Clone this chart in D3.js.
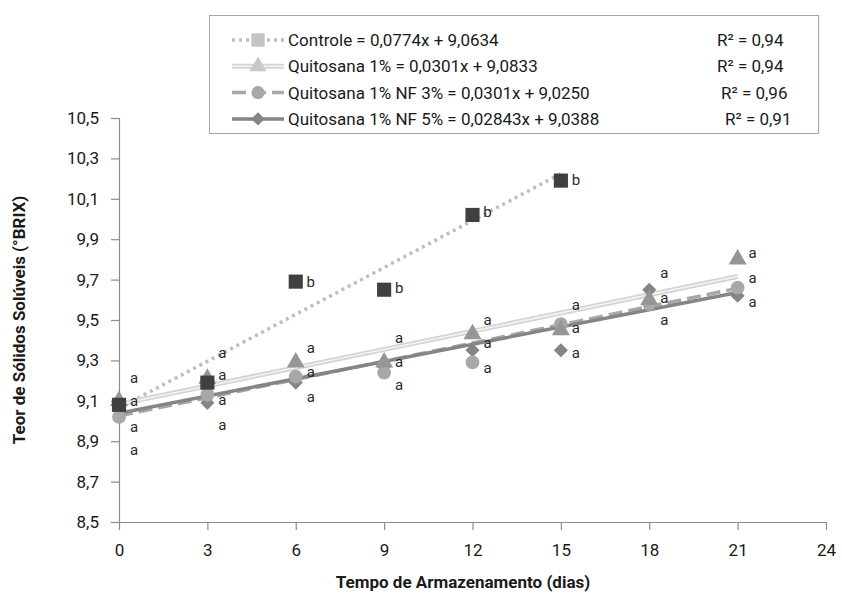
<!DOCTYPE html>
<html><head><meta charset="utf-8">
<script src="https://cdn.jsdelivr.net/npm/d3@7"></script>
<style>body{margin:0;background:#fff}svg{display:block}text{font-family:"Roboto",sans-serif}</style>
</head><body><svg id="c" width="842" height="603"></svg>
<script>
const days = [0, 3, 6, 9, 12, 15, 18, 21];
const controle = [9.08, 9.19, 9.69, 9.65, 10.02, 10.19];
const quit1 = [9.10, 9.21, 9.29, 9.29, 9.43, 9.45, 9.60, 9.80];
const quitNF3 = [9.02, 9.13, 9.22, 9.24, 9.29, 9.48, 9.58, 9.66];
const quitNF5 = [9.08, 9.09, 9.19, 9.27, 9.35, 9.35, 9.65, 9.62];
const seriesNames = ["Controle", "Quitosana 1%", "Quitosana 1% NF 3%", "Quitosana 1% NF 5%"];
const slopes = [0.0774, 0.0301, 0.0301, 0.02843];
const intercepts = [9.0634, 9.0833, 9.0250, 9.0388];
const legendEq = ["Controle = 0,0774x + 9,0634", "Quitosana 1% = 0,0301x + 9,0833", "Quitosana 1% NF 3% = 0,0301x + 9,0250", "Quitosana 1% NF 5% = 0,02843x + 9,0388"];
const legendR2 = ["R² = 0,94", "R² = 0,94", "R² = 0,96", "R² = 0,91"];
const trendEnd = [15, 21, 21, 21];
const xTicks = [0, 3, 6, 9, 12, 15, 18, 21, 24];
const yTicks = [8.5, 8.7, 8.9, 9.1, 9.3, 9.5, 9.7, 9.9, 10.1, 10.3, 10.5];
// significance letters: [day, value position, letter]
const letters = [
  [0, 9.213, "a"], [0, 9.099, "a"], [0, 8.970, "a"], [0, 8.856, "a"],
  [3, 9.337, "a"], [3, 9.228, "a"], [3, 9.104, "a"], [3, 8.980, "a"],
  [6, 9.688, "b"], [6, 9.361, "a"], [6, 9.243, "a"], [6, 9.119, "a"],
  [9, 9.658, "b"], [9, 9.411, "a"], [9, 9.292, "a"], [9, 9.178, "a"],
  [12, 10.035, "b"], [12, 9.500, "a"], [12, 9.386, "a"], [12, 9.262, "a"],
  [15, 10.193, "b"], [15, 9.574, "a"], [15, 9.460, "a"], [15, 9.337, "a"],
  [18, 9.733, "a"], [18, 9.609, "a"], [18, 9.500, "a"],
  [21, 9.832, "a"], [21, 9.708, "a"], [21, 9.589, "a"]
];

const svg = d3.select("#c");
const L = 119, R = 826, T = 118, B = 522;
const x = d3.scaleLinear().domain([0, 24]).range([L, R]);
const y = d3.scaleLinear().domain([8.5, 10.5]).range([B, T]);
const fmt = d => d3.format(".1f")(d).replace(".", ",");

const yAx = svg.append("g").attr("transform", `translate(${L},0)`)
  .call(d3.axisLeft(y).tickValues(yTicks).tickFormat(fmt).tickSize(8).tickPadding(12));
const xAx = svg.append("g").attr("transform", `translate(0,${B})`)
  .call(d3.axisBottom(x).tickValues(xTicks).tickFormat(d3.format("d")).tickSize(8).tickPadding(14));
[yAx, xAx].forEach(g => {
  g.selectAll("path,line").attr("stroke", "#8c8c8c").attr("stroke-width", 1.2);
  g.selectAll("text").attr("fill", "#1a1a1a").style("font-size", "17px").style("font-family", "'Roboto',sans-serif");
});
xAx.select("path").attr("d", `M${L},0.5H${R}`);
yAx.select("path").attr("d", `M0.5,${T}V${B}`);

svg.append("text").attr("x", 463).attr("y", 588).attr("text-anchor", "middle")
  .style("font-size", "17px").style("font-weight", "bold").attr("fill", "#1a1a1a")
  .text("Tempo de Armazenamento (dias)");
svg.append("text").attr("transform", "translate(25,320) rotate(-90)").attr("text-anchor", "middle")
  .style("font-size", "17px").style("font-weight", "bold").attr("fill", "#1a1a1a")
  .text("Teor de Sólidos Solúveis (°BRIX)");

function drawTrend(g, x1, y1, x2, y2, i) {
  const ln = () => g.append("line").attr("x1", x1).attr("y1", y1).attr("x2", x2).attr("y2", y2);
  if (i === 0) {
    ln().attr("stroke", "#bdbdbd").attr("stroke-width", 3.5).attr("stroke-dasharray", "3,4");
  } else if (i === 1) {
    ln().attr("stroke", "#d4d4d4").attr("stroke-width", 5);
    ln().attr("stroke", "#f4f4f4").attr("stroke-width", 1.5);
  } else if (i === 2) {
    ln().attr("stroke", "#a8a8a8").attr("stroke-width", 3.5).attr("stroke-dasharray", "14,6");
  } else {
    ln().attr("stroke", "#858585").attr("stroke-width", 3.5);
  }
}
const symbols = [d3.symbolSquare, d3.symbolTriangle, d3.symbolCircle, d3.symbolSquare];
const sizes = [200, 140, 150, 100];
const rot = [0, 0, 0, 45];
const colors = ["#404040", "#969696", "#a8a8a8", "#858585"];
const legendColors = ["#c4c4c4", "#c8c8c8", "#a8a8a8", "#858585"];
const data = [controle, quit1, quitNF3, quitNF5];

const plot = svg.append("g");
[0, 1, 2, 3].forEach(i => {
  drawTrend(plot, x(0), y(intercepts[i]), x(trendEnd[i]), y(intercepts[i] + slopes[i] * trendEnd[i]), i);
});
[3, 2, 1, 0].forEach(i => {
  plot.append("g").selectAll("path").data(data[i]).join("path")
    .attr("transform", (d, j) => `translate(${x(days[j])},${y(d)}) rotate(${rot[i]})`)
    .attr("d", d3.symbol().type(symbols[i]).size(sizes[i]))
    .attr("fill", colors[i]);
});
svg.append("g").selectAll("text").data(letters).join("text")
  .attr("x", d => x(d[0]) + 15).attr("y", d => y(d[1]) + 5)
  .attr("text-anchor", "middle").style("font-size", "15px").attr("fill", "#2a2a2a")
  .text(d => d[2]);

const lg = svg.append("g");
lg.append("rect").attr("x", 209.5).attr("y", 15.5).attr("width", 609).attr("height", 118)
  .attr("fill", "#fff").attr("stroke", "#a6a6a6").attr("stroke-width", 1);
legendEq.forEach((t, i) => {
  const yy = 40 + i * 26.3;
  drawTrend(lg, 232, yy, 284, yy, i);
  lg.append("path").attr("transform", `translate(258,${yy}) rotate(${rot[i]})`)
    .attr("d", d3.symbol().type(symbols[i]).size(sizes[i] * 0.9)).attr("fill", legendColors[i]);
  lg.append("text").attr("x", 288).attr("y", yy + 6).style("font-size", "17px").attr("fill", "#1a1a1a").text(t);
  lg.append("text").attr("x", [717, 717, 721, 725][i]).attr("y", yy + 6).style("font-size", "17px").attr("fill", "#1a1a1a").text(legendR2[i]);
});
</script></body></html>
